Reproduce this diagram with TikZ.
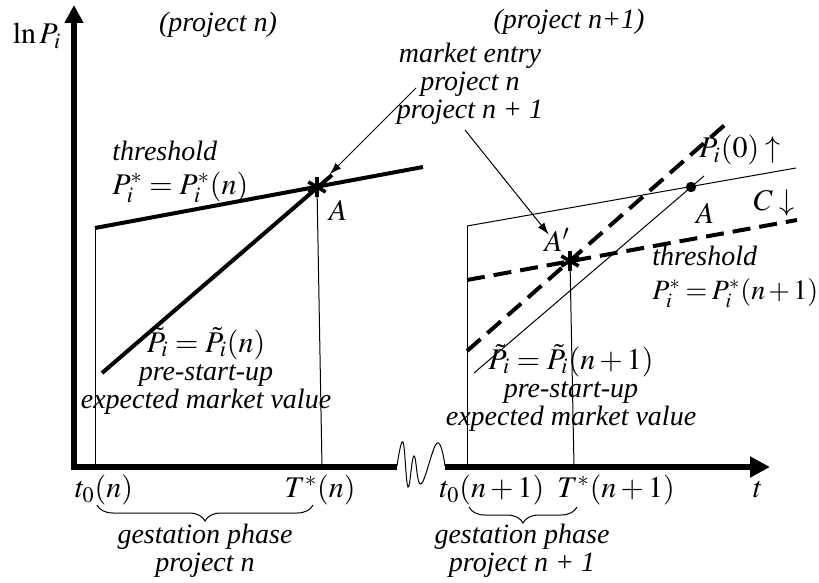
\documentclass[tikz,border=0pt]{standalone}
\usepackage{amsmath}
\usepackage{mathptmx}
\usepackage{fontspec}
\setmainfont{Liberation Serif}
\usetikzlibrary{arrows.meta, calc, decorations.pathreplacing}

% asterisk mark for the market entry points
\newcommand{\entrystar}[1]{%
  \foreach \ang in {90,30,150} {
    \draw[line width=1.8pt] ($(#1)+(\ang:10)$) -- ($(#1)+(\ang+180:10)$);
  }%
}

\begin{document}
\begin{tikzpicture}[
    x=0.5pt, y=-0.5pt,
    font={\fontsize{14}{14}\selectfont\itshape},
    axis/.style={line width=2.7pt},
    thickline/.style={line width=2pt},
    thinline/.style={line width=0.5pt},
    dashline/.style={line width=2pt, dash pattern=on 9pt off 4.5pt},
    entryarrow/.style={thinline, -{Latex[length=6pt, width=4pt]}},
    txt/.style={inner sep=0pt, align=center},
    mathtxt/.style={txt, font={\fontsize{15}{15}\selectfont}},
    gestbrace/.style={thinline, decorate, decoration={brace, mirror, amplitude=8pt}}
]
\useasboundingbox (0,0) rectangle (819,583);

% --- Achsen ---
\coordinate (O1)   at (74,467);
\coordinate (ytop) at (74,5);
\coordinate (brkL) at (397,467);
\coordinate (brkR) at (445,467);
\coordinate (tEnd) at (770,467);

\draw[axis, {Triangle[length=9pt, width=9pt]}-] (ytop) -- (O1) -- (brkL);
\draw[axis, -{Triangle[length=10pt, width=10pt]}] (brkR) -- (tEnd);
% Achsenbruch
\draw[thinline] plot[smooth, tension=0.7] coordinates {(397,466) (403,442) (408,487) (414,456) (421,484) (437,443) (445,466)};

% --- Projekt n (links) ---
\coordinate (t0n)      at (95,467);
\coordinate (t0nTop)   at (95,228);
\coordinate (thrEnd)   at (423,167);
\coordinate (A)        at (317,187);
\coordinate (Tn)       at (322,467);
\coordinate (expStart) at (102,373);
\coordinate (expEnd)   at (332,175);

\draw[thinline]  (t0n) -- (t0nTop);
\draw[thickline] (t0nTop) -- (thrEnd);
\draw[thickline] (expStart) -- (expEnd);
\draw[thinline]  (A) -- (Tn);
\entrystar{A}

% --- Projekt n+1 (rechts) ---
\coordinate (t0m)         at (467,467);
\coordinate (t0mTop)      at (467,226);
\coordinate (thrOldEnd)   at (796,168);
\coordinate (expOldStart) at (474,373);
\coordinate (expOldEnd)   at (704,176);
\coordinate (Aold)        at (691,187);
\coordinate (expNewStart) at (467,351);
\coordinate (expNewEnd)   at (727,123);
\coordinate (thrNewStart) at (467,280);
\coordinate (thrNewEnd)   at (797,220);
\coordinate (Ap)          at (570,261);
\coordinate (Tm)          at (574,467);

\draw[thinline] (t0m) -- (t0mTop);
\draw[thinline] (t0mTop) -- (thrOldEnd);
\draw[thinline] (expOldStart) -- (expOldEnd);
\fill (Aold) circle (2.6pt);
\draw[dashline] (expNewStart) -- (expNewEnd);
\draw[dashline] (thrNewStart) -- (thrNewEnd);
\draw[thinline] (Ap) -- (Tm);
\entrystar{Ap}

% --- Markteintritt ---
\node[txt] (entry) at (470,84) {market entry\\project n\\project n + 1};
\coordinate (entryL) at (416,88);
\coordinate (entryR) at (465,130);
\draw[entryarrow, shorten >=9pt]  (entryL) -- (A);
\draw[entryarrow, shorten >=17pt] (entryR) -- (Ap);

% --- Beschriftungen links ---
\node[mathtxt] (lnP)    at (37,36)   {$\ln P_i$};
\node[txt] (projN)  at (218,25)  {(project n)};
\node[txt, anchor=west, align=left] (thrN) at (112,172) {threshold\\[3pt]{\fontsize{15}{15}\selectfont$P_i^* = P_i^*(n)$}};
\node[mathtxt] (labA)   at (338,210) {$A$};
\node[txt] (expN)   at (206,371) {{\fontsize{15}{15}\selectfont$\tilde{P}_i = \tilde{P}_i(n)$}\\pre-start-up\\expected market value};
\node[mathtxt] (t0nLab) at (104,490) {$t_0(n)$};
\node[mathtxt] (TnLab)  at (320,490) {$T^*(n)$};
\node[txt] (gestN)  at (205,551) {gestation phase\\project n};
\draw[gestbrace] (97,505) -- (313,505);

% --- Beschriftungen rechts ---
\node[txt] (projM)   at (569,22)  {(project n+1)};
\node[mathtxt] (P0up)    at (740,150) {$P_i(0)\uparrow$};
\node[mathtxt] (labAold) at (705,213) {$A$};
\node[mathtxt] (Cdown)   at (774,203) {$C\downarrow$};
\node[mathtxt] (labAp)   at (557,240) {$A'$};
\node[txt, anchor=west, align=left] (thrM) at (652,277) {threshold\\[3pt]{\thickmuskip=3mu \medmuskip=2mu $P_i^* = P_i^*(n+1)$}};
\node[txt] (expM)    at (571,388) {{\fontsize{15}{15}\selectfont$\tilde{P}_i = \tilde{P}_i(n+1)$}\\pre-start-up\\expected market value};
\node[mathtxt] (t0mLab)  at (492,490) {$t_0(n+1)$};
\node[mathtxt] (TmLab)   at (616,490) {$T^*(n+1)$};
\node[mathtxt] (tLab)    at (758,490) {$\boldsymbol{t}$};
\node[txt] (gestM)   at (522,551) {gestation phase\\project n + 1};
\draw[gestbrace] (469,507) -- (577,507);

\end{tikzpicture}
\end{document}
